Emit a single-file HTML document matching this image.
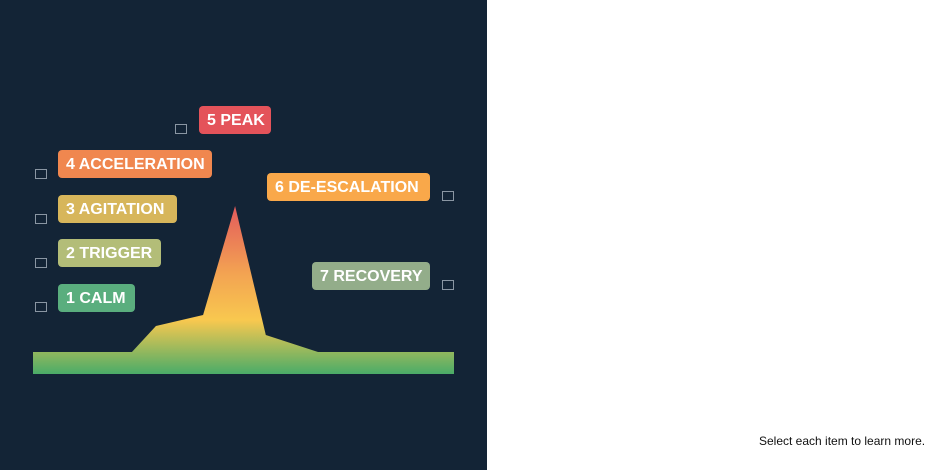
<!DOCTYPE html>
<html><head><meta charset="utf-8"><style>
body{margin:0;width:940px;height:470px;background:#fff;font-family:"Liberation Sans",sans-serif;position:relative;overflow:hidden}
#panel{position:absolute;left:0;top:0;width:487px;height:470px;background:#132436}
.lbl{position:absolute;height:28px;line-height:29px;padding:0 8px;border-radius:4px;color:#fff;font-weight:bold;font-size:16px;white-space:nowrap;box-sizing:border-box}
.cb{position:absolute;width:12px;height:10px;border:1px solid #8a96a3;box-sizing:border-box}
#note{position:absolute;left:759px;top:434px;font-size:12px;color:#111}
</style></head><body>
<div id="panel">
<svg id="chart" width="487" height="470">
<defs><linearGradient id="g" x1="0" y1="206" x2="0" y2="374" gradientUnits="userSpaceOnUse">
<stop offset="0" stop-color="#e35a5c"/><stop offset="0.4" stop-color="#f3a352"/><stop offset="0.68" stop-color="#f8c84f"/><stop offset="1" stop-color="#4aac68"/></linearGradient></defs>
</svg>
<div class="lbl" style="left:58px;top:284px;width:77px;background:#5aae7e">1 CALM</div>
<div class="lbl" style="left:58px;top:239px;width:103px;background:#b3bd78">2 TRIGGER</div>
<div class="lbl" style="left:58px;top:195px;width:119px;background:#d7b65b">3 AGITATION</div>
<div class="lbl" style="left:58px;top:150px;width:154px;background:#f0874f">4 ACCELERATION</div>
<div class="lbl" style="left:199px;top:106px;width:72px;background:#e4535a">5 PEAK</div>
<div class="lbl" style="left:267px;top:173px;width:163px;background:#f9a84a">6 DE-ESCALATION</div>
<div class="lbl" style="left:312px;top:262px;width:118px;background:#93ad8a">7 RECOVERY</div>
<div class="cb" style="left:35px;top:302px"></div>
<div class="cb" style="left:35px;top:258px"></div>
<div class="cb" style="left:35px;top:214px"></div>
<div class="cb" style="left:35px;top:169px"></div>
<div class="cb" style="left:175px;top:124px"></div>
<div class="cb" style="left:442px;top:191px"></div>
<div class="cb" style="left:442px;top:280px"></div>
</div>
<div id="note">Select each item to learn more.</div>
<script>
const times=[0,23.5,29.2,40.4,48,55.3,67.7,100];
const intensity=[22,22,48,59,168,39,22,22];
const xS=t=>33+t*4.21, yS=v=>374-v;
let d='M'+xS(times[0])+','+yS(0);
times.forEach((t,i)=>{d+=' L'+xS(t)+','+yS(intensity[i]);});
d+=' L'+xS(times[times.length-1])+','+yS(0)+' Z';
const p=document.createElementNS('http://www.w3.org/2000/svg','path');
p.setAttribute('d',d);p.setAttribute('fill','url(#g)');


document.getElementById('chart').appendChild(p);
</script>
</body></html>
